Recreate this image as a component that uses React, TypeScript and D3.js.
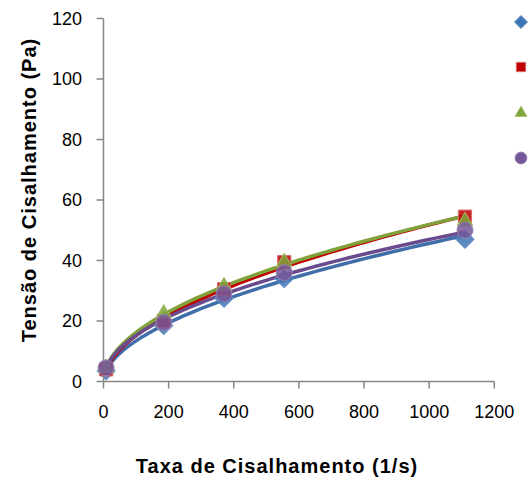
import React from "react";
import * as d3 from "d3";

// Shear rate (1/s) at which each sample was measured
const shearRate = [8, 185, 370, 555, 1110];

// Shear stress (Pa) for the four samples
const stressA = [3.5, 18.5, 27.5, 34, 47];
const stressB = [4, 20, 30.5, 39.5, 54.5];
const stressC = [4.5, 22.5, 31.5, 39.5, 53];
const stressD = [4.5, 19.5, 29, 36, 50];

const xTicks = [0, 200, 400, 600, 800, 1000, 1200];
const yTicks = [0, 20, 40, 60, 80, 100, 120];

const xTitle = "Taxa de Cisalhamento (1/s)";
const yTitle = "Tensão de Cisalhamento (Pa)";

type Shape = "diamond" | "square" | "triangle" | "circle";
interface Series {
  values: number[];
  line: string;
  fill: string;
  stroke: string;
  shape: Shape;
}

const series: Series[] = [
  { values: stressA, line: "#3F6EA8", fill: "#3F74B5", stroke: "#6C95C8", shape: "diamond" },
  { values: stressB, line: "#C00000", fill: "#C00000", stroke: "#D46A6A", shape: "square" },
  { values: stressC, line: "#7FA23A", fill: "#7DA53A", stroke: "#A3C06A", shape: "triangle" },
  { values: stressD, line: "#6A4C8E", fill: "#75589A", stroke: "#9580B2", shape: "circle" },
];

// Power-law (Ostwald) fit: log-log least squares
function powerFit(xs: number[], ys: number[]) {
  const lx = xs.map(Math.log);
  const ly = ys.map(Math.log);
  const mx = d3.mean(lx)!;
  const my = d3.mean(ly)!;
  let num = 0;
  let den = 0;
  for (let i = 0; i < lx.length; i++) {
    num += (lx[i] - mx) * (ly[i] - my);
    den += (lx[i] - mx) ** 2;
  }
  const n = num / den;
  const k = Math.exp(my - n * mx);
  return (x: number) => k * Math.pow(x, n);
}

function markerPath(shape: Shape, s: number) {
  const sym =
    shape === "diamond"
      ? d3.symbolDiamond2
      : shape === "square"
      ? d3.symbolSquare2
      : shape === "triangle"
      ? d3.symbolTriangle2
      : d3.symbolCircle;
  return d3.symbol(sym, s)()!;
}

export default function App() {
  const width = 528;
  const height = 479;
  const x = d3.scaleLinear().domain([0, 1200]).range([103.5, 494.3]);
  const y = d3.scaleLinear().domain([0, 120]).range([381.5, 18.5]);
  const axisColor = "#878787";
  const font = "'Liberation Sans', Arial, sans-serif";

  const line = d3
    .line<[number, number]>()
    .x((d) => x(d[0]))
    .y((d) => y(d[1]));

  const sample = d3.range(0, 61).map((i) => {
    const t = i / 60;
    return shearRate[0] + (shearRate[shearRate.length - 1] - shearRate[0]) * Math.pow(t, 1.6);
  });

  const legendY = [22, 67, 113, 158];

  return (
    <svg
      width={width}
      height={height}
      style={{ position: "absolute", left: 0, top: 0, background: "#fff" }}
      fontFamily={font}
    >
      {/* axes */}
      <line x1={x(0)} x2={x(1200)} y1={y(0)} y2={y(0)} stroke={axisColor} strokeWidth={1.5} />
      <line x1={x(0)} x2={x(0)} y1={y(0)} y2={y(120)} stroke={axisColor} strokeWidth={1.5} />
      {yTicks.map((t) => (
        <g key={"y" + t}>
          <line x1={x(0) - 7} x2={x(0)} y1={y(t)} y2={y(t)} stroke={axisColor} strokeWidth={1.5} />
          <text x={82} y={y(t)} dy="0.36em" textAnchor="end" fontSize={18} fill="#000">
            {t}
          </text>
        </g>
      ))}
      {xTicks.map((t) => (
        <g key={"x" + t}>
          <line x1={x(t)} x2={x(t)} y1={y(0)} y2={y(0) + 7} stroke={axisColor} strokeWidth={1.5} />
          <text x={x(t)} y={418} textAnchor="middle" fontSize={18} fill="#000">
            {t}
          </text>
        </g>
      ))}

      {/* fitted curves */}
      {series.map((s, i) => {
        const f = powerFit(shearRate, s.values);
        const pts = sample.map((v) => [v, f(v)] as [number, number]);
        return (
          <path
            key={"l" + i}
            d={line(pts)!}
            fill="none"
            stroke={s.line}
            strokeWidth={3.5}
            strokeLinejoin="round"
            strokeLinecap="round"
          />
        );
      })}

      {/* measured points */}
      {series.map((s, i) =>
        s.values.map((v, j) => (
          <path
            key={"m" + i + "-" + j}
            d={markerPath(s.shape, s.shape === "circle" ? 200 : s.shape === "triangle" ? 170 : 220)}
            transform={`translate(${x(shearRate[j])},${y(v)})`}
            fill={s.fill}
            stroke={s.stroke}
            strokeWidth={1}
            fillOpacity={0.85}
          />
        ))
      )}

      {/* legend symbols */}
      {series.map((s, i) => (
        <path
          key={"lg" + i}
          d={markerPath(s.shape, s.shape === "circle" ? 110 : s.shape === "triangle" ? 100 : 110)}
          transform={`translate(521,${legendY[i]})`}
          fill={s.fill}
          stroke={s.stroke}
          strokeWidth={1}
        />
      ))}

      {/* titles */}
      <text
        x={277}
        y={473}
        textAnchor="middle"
        fontSize={20}
        letterSpacing={1}
        fontWeight="bold"
        fill="#000"
      >
        {xTitle}
      </text>
      <text
        transform={`translate(36,${y(60) - 10}) rotate(-90)`}
        textAnchor="middle"
        fontSize={20}
        letterSpacing={1}
        fontWeight="bold"
        fill="#000"
      >
        {yTitle}
      </text>
    </svg>
  );
}
